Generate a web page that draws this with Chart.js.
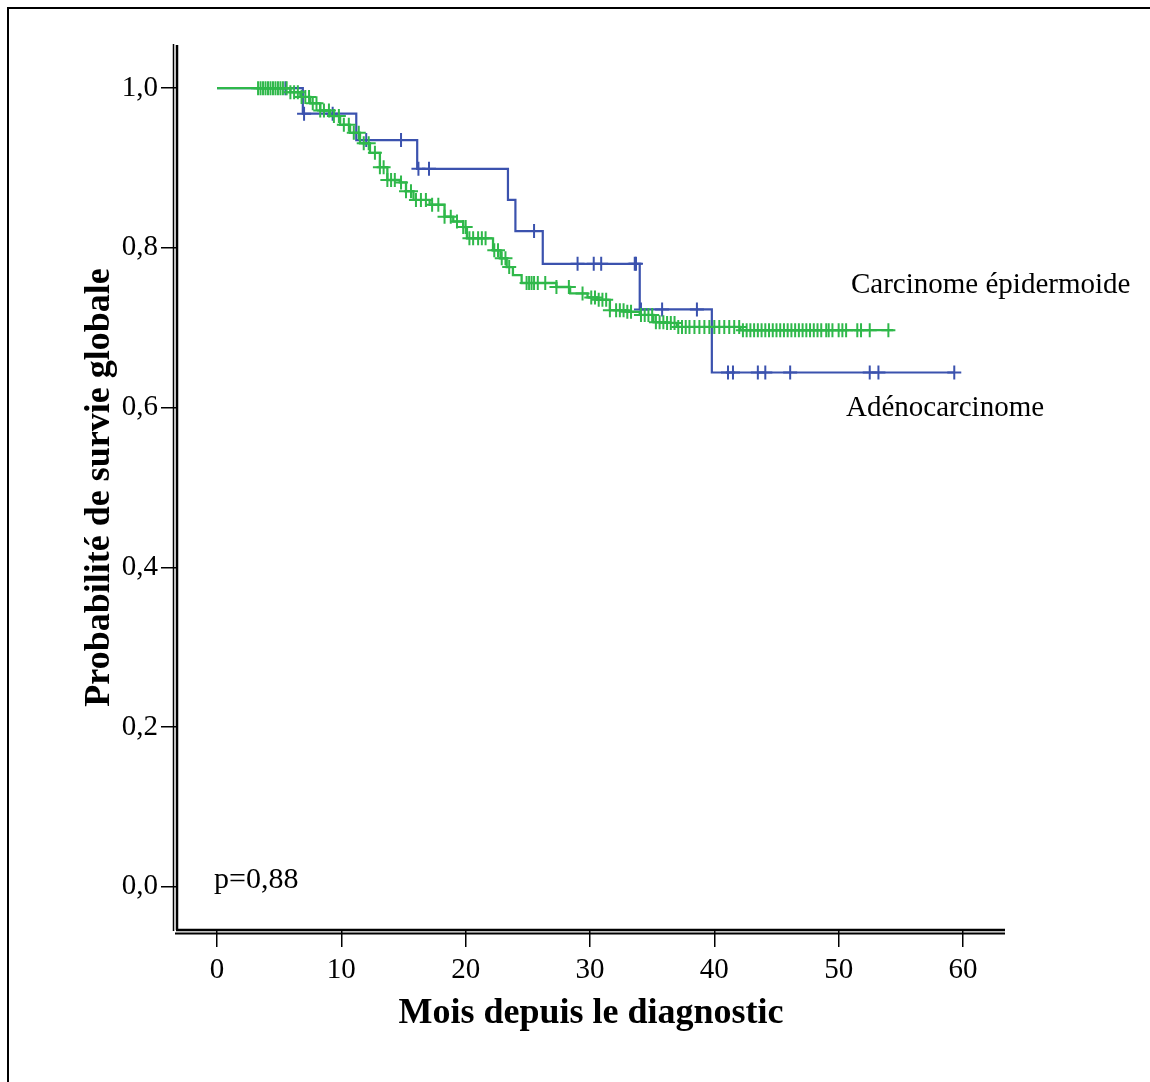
<!DOCTYPE html>
<html>
<head>
<meta charset="utf-8">
<script src="https://cdn.jsdelivr.net/npm/chart.js@4"></script>
<style>
  html, body { margin: 0; padding: 0; background: #fff; }
  canvas { display: block; }
</style>
</head>
<body>
<canvas id="km" width="1150" height="1082"></canvas>
<script>
// --- données ---
// Adénocarcinome (bleu) : temps des événements (mois) et survie après l'événement
const adenoTimes = [0, 6.9, 11.2, 16.1, 23.4, 24.0, 26.2, 34.0, 39.8, 59.3];
const adenoSurv  = [1.0, 0.968, 0.935, 0.899, 0.860, 0.821, 0.780, 0.723, 0.644, 0.644];
const adenoCensored = [5.5, 7.0, 9.3, 12.0, 14.8, 16.2, 17.05, 25.5, 29.0, 30.3, 30.9, 33.6, 33.7,
  34.1, 35.8, 38.6, 41.1, 41.5, 43.5, 44.1, 46.1, 52.5, 53.2, 59.3];

// Carcinome épidermoide (vert)
const epiTimes = [0, 5.9, 6.7, 7.5, 8.3, 9.1, 9.9, 10.7, 11.5, 12.3, 13.1, 13.7, 14.7, 15.2, 15.8,
  17.1, 18.3, 19.0, 19.8, 20.1, 22.2, 22.8, 23.3, 23.8, 24.5, 27.3, 28.4, 29.8, 30.6, 31.6,
  33.0, 34.0, 35.1, 36.2, 37.0, 42.1, 54.4];
const epiSurv = [1.0, 0.995, 0.989, 0.981, 0.972, 0.965, 0.954, 0.944, 0.931, 0.919, 0.901, 0.885, 0.882, 0.871, 0.860,
  0.854, 0.839, 0.833, 0.826, 0.812, 0.797, 0.787, 0.776, 0.766, 0.756, 0.751, 0.743, 0.738, 0.735, 0.722,
  0.720, 0.716, 0.707, 0.706, 0.701, 0.697, 0.697];
const epiCensored = [3.3, 3.5, 3.7, 3.9, 4.1, 4.3, 4.5, 4.7, 4.9, 5.1, 5.3,
  5.6, 5.9, 6.2, 6.5, 6.8, 7.1, 7.4, 7.7, 8.0, 8.3, 8.6, 9.0, 9.4, 9.8, 10.2, 10.6, 11.0, 11.4,
  11.8, 12.2, 12.7, 13.1, 13.4, 13.7, 14.0, 14.3, 14.8, 15.2, 15.6, 16.0, 16.4, 16.8, 17.3, 17.8,
  18.3, 18.8, 19.3, 19.8, 20.0, 20.3, 20.6, 21.0, 21.3, 21.6, 22.3, 22.6, 22.9, 23.2, 23.5,
  24.9, 25.1, 25.3, 25.5, 25.8, 26.4, 27.3, 28.3, 29.4, 30.1, 30.4, 30.7, 31.0, 31.3, 31.6,
  32.1, 32.4, 32.7, 33.0, 33.3, 34.1, 34.4, 34.7, 35.0, 35.3, 35.6, 35.9, 36.2, 36.5, 36.8,
  37.1, 37.4, 37.7, 38.0, 38.4, 38.8, 39.2, 39.6, 40.0, 40.4, 40.8, 41.2, 41.6, 42.0, 42.3,
  42.6, 42.9, 43.2, 43.5, 43.8, 44.1, 44.4, 44.7, 45.0, 45.3, 45.6, 45.9, 46.2, 46.5, 46.8,
  47.1, 47.4, 47.7, 48.0, 48.3, 48.6, 49.0, 49.2, 49.5, 50.0, 50.3, 50.6, 51.5, 51.8, 52.5, 54.0];

const xTicks = [0, 10, 20, 30, 40, 50, 60];
const yTicks = [0, 0.2, 0.4, 0.6, 0.8, 1.0];

const BLUE = '#3B52AE';
const GREEN = '#2FB84A';

// survie au temps t (dernier événement <= t)
function survAt(times, surv, t) {
  let s = surv[0];
  for (let i = 0; i < times.length; i++) {
    if (times[i] <= t) s = surv[i];
  }
  return s;
}

const toPts = (times, surv) => times.map((t, i) => ({ x: t, y: surv[i] }));
const censPts = (cens, times, surv) => cens.map(t => ({ x: t, y: survAt(times, surv, t) }));

const serif = '"Liberation Serif", "Times New Roman", serif';

// cadre, axes doubles et textes
const decor = {
  id: 'decor',
  afterDraw(chart) {
    const ctx = chart.ctx;
    const a = chart.chartArea;
    ctx.save();
    ctx.strokeStyle = '#000';
    ctx.lineWidth = 2;
    ctx.beginPath();
    ctx.moveTo(8, 1082); ctx.lineTo(8, 8); ctx.lineTo(1150, 8);
    ctx.stroke();

    // axe Y double
    ctx.lineWidth = 1.5;
    ctx.beginPath(); ctx.moveTo(173.5, a.top - 1); ctx.lineTo(173.5, a.bottom + 1); ctx.stroke();
    ctx.lineWidth = 2.5;
    ctx.beginPath(); ctx.moveTo(a.left - 1, a.top); ctx.lineTo(a.left - 1, a.bottom); ctx.stroke();
    // axe X double
    ctx.beginPath(); ctx.moveTo(a.left - 2, a.bottom); ctx.lineTo(a.right + 1, a.bottom); ctx.stroke();
    ctx.lineWidth = 2;
    ctx.beginPath(); ctx.moveTo(175, a.bottom + 3.5); ctx.lineTo(a.right + 1, a.bottom + 3.5); ctx.stroke();

    ctx.fillStyle = '#000';
    ctx.textBaseline = 'alphabetic';
    ctx.textAlign = 'left';
    ctx.font = '29px ' + serif;
    ctx.fillText('Carcinome épidermoide', 851, 293);
    ctx.fillText('Adénocarcinome', 846, 416);
    ctx.font = '30px ' + serif;
    ctx.fillText('p=0,88', 214, 888);
    ctx.restore();
  }
};

new Chart(document.getElementById('km'), {
  type: 'scatter',
  data: {
    datasets: [
      {
        label: 'Carcinome épidermoide',
        data: toPts(epiTimes, epiSurv),
        showLine: true,
        stepped: true,
        borderColor: GREEN,
        borderWidth: 2.3,
        pointRadius: 0,
        order: 1
      },
      {
        label: 'Carcinome épidermoide censuré',
        data: censPts(epiCensored, epiTimes, epiSurv),
        showLine: false,
        pointStyle: 'cross',
        pointRadius: 7,
        borderColor: GREEN,
        pointBorderWidth: 2,
        order: 0
      },
      {
        label: 'Adénocarcinome',
        data: toPts(adenoTimes, adenoSurv),
        showLine: true,
        stepped: true,
        borderColor: BLUE,
        borderWidth: 2.2,
        pointRadius: 0,
        order: 3
      },
      {
        label: 'Adénocarcinome censuré',
        data: censPts(adenoCensored, adenoTimes, adenoSurv),
        showLine: false,
        pointStyle: 'cross',
        pointRadius: 7,
        borderColor: BLUE,
        pointBorderWidth: 2,
        order: 2
      }
    ]
  },
  options: {
    responsive: false,
    devicePixelRatio: 1,
    animation: false,
    events: [],
    layout: { padding: { left: 0, top: 45, right: 146, bottom: 0 } },
    plugins: { legend: { display: false }, tooltip: { enabled: false } },
    scales: {
      x: {
        type: 'linear',
        min: -3.14,
        max: 63.3,
        afterFit: s => { s.height = 152; },
        afterBuildTicks: s => { s.ticks = xTicks.map(v => ({ value: v })); },
        border: { display: false },
        grid: { drawOnChartArea: false, drawTicks: true, tickLength: 17, color: '#000', lineWidth: 1.5 },
        ticks: { color: '#000', padding: 6, font: { family: serif, size: 29 } },
        title: {
          display: true,
          text: 'Mois depuis le diagnostic',
          color: '#000',
          font: { family: serif, size: 36, weight: 'bold' },
          padding: { top: 0, bottom: 47 }
        }
      },
      y: {
        type: 'linear',
        min: -0.054,
        max: 1.054,
        afterFit: s => { s.width = 178; },
        afterBuildTicks: s => { s.ticks = yTicks.map(v => ({ value: v })); },
        border: { display: false },
        grid: { drawOnChartArea: false, drawTicks: true, tickLength: 17, color: '#000', lineWidth: 1.5 },
        ticks: {
          color: '#000',
          padding: 3,
          font: { family: serif, size: 29 },
          callback: v => v.toFixed(1).replace('.', ',')
        },
        title: {
          display: true,
          text: 'Probabilité de survie globale',
          color: '#000',
          font: { family: serif, size: 36, weight: 'bold' },
          padding: { top: 78, bottom: 0 }
        }
      }
    }
  },
  plugins: [decor]
});
</script>
</body>
</html>
